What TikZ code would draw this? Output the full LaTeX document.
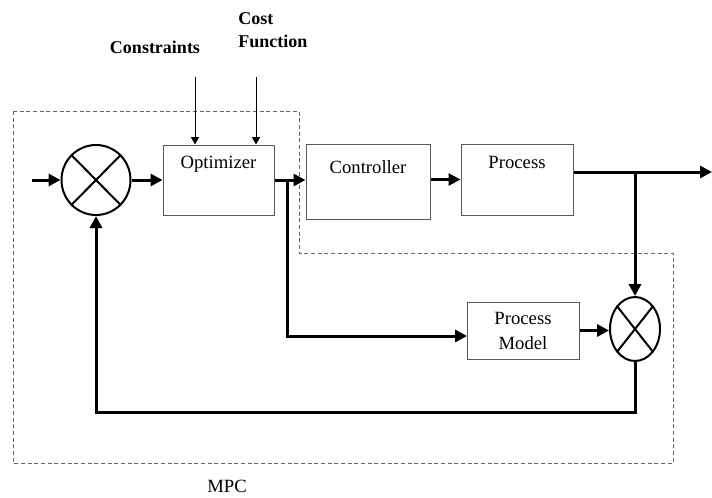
\documentclass[tikz,border=0pt]{standalone}
\usepackage{fontspec}
\setmainfont{Liberation Serif}
\usetikzlibrary{arrows.meta, shapes.geometric}

\begin{document}
\begin{tikzpicture}[x=0.75pt, y=-0.75pt,
    blk/.style={draw=black!65, line width=0.75pt, inner sep=0pt},
    sumj/.style={draw, ellipse, line width=1.5pt, inner sep=0pt},
    sig/.style={line width=2.25pt, -{Triangle[length=9pt, width=9pt]}},
    inarr/.style={line width=0.75pt, -{Triangle[length=5.5pt, width=6pt]}},
    txt/.style={inner sep=0pt, font=\fontsize{14pt}{18.75pt}\selectfont},
    lbl/.style={inner sep=0pt, font=\bfseries\fontsize{13.5pt}{17.25pt}\selectfont}]
    \useasboundingbox (0,0) rectangle (712,497);

    % MPC boundary
    \draw[dashed, dash pattern=on 3pt off 2pt, black!60, line width=0.6pt]
        (13,111) -- (299,111) -- (299,253) -- (673,253) -- (673,463) -- (13,463) -- cycle;
    \node[txt, anchor=base] (mpcLbl) at (227,492) {MPC};

    % Coordinates
    \coordinate (in) at (32,180);
    \coordinate (split1) at (287,180);
    \coordinate (split2) at (635,172);
    \coordinate (out) at (712,172);
    \coordinate (mdlIn) at (467,336);
    \coordinate (fb) at (95,412);
    \coordinate (consTop) at (195,77);
    \coordinate (costTop) at (256,77);

    % Summing junctions
    \node[sumj, minimum width=51.75pt, minimum height=52.5pt] (sum1) at (96,180) {};
    \node[sumj, minimum width=37.5pt, minimum height=48pt] (sum2) at (635,329) {};
    \foreach \s in {sum1, sum2} {
        \draw[line width=1.5pt] (\s.north east) -- (\s.south west);
        \draw[line width=1.5pt] (\s.north west) -- (\s.south east);
    }

    % Blocks
    \node[blk, minimum width=83.25pt, minimum height=52.5pt] (opt) at (218.5,180) {};
    \node[blk, minimum width=93pt, minimum height=56.25pt] (ctrl) at (368,181.5) {};
    \node[blk, minimum width=84pt, minimum height=53.25pt] (proc) at (517,179.5) {};
    \node[blk, minimum width=84pt, minimum height=42.75pt, align=center,
          font=\fontsize{14pt}{18.75pt}\selectfont] (model) at (523,330.5) {Process\\Model};
    \node[txt, anchor=base] (optTxt) at (218.5,168) {Optimizer};
    \node[txt, anchor=base] (ctrlTxt) at (368,173) {Controller};
    \node[txt, anchor=base] (procTxt) at (517,168) {Process};

    % Inputs to the optimizer
    \node[lbl, anchor=base] (consLbl) at (155,53) {Constraints};
    \node[lbl, anchor=north west, align=left] (costLbl) at (238,12) {Cost\\Function};
    \draw[inarr] (consTop) -- (consTop |- opt.north);
    \draw[inarr] (costTop) -- (costTop |- opt.north);

    % Signal paths
    \draw[sig] (in) -- (sum1.west);
    \draw[sig] (sum1.east) -- (opt.west);
    \draw[sig] (opt.east) -- (opt.east -| ctrl.west);
    \draw[sig] (proc.west -| ctrl.east) -- (proc.west);
    \draw[sig] (proc.east |- split2) -- (out);
    \draw[sig] (split2) -- (sum2.north);
    \draw[sig] (split1) |- (mdlIn);
    \draw[sig] (model.east) -- (model.east -| sum2.west);

    % Feedback
    \draw[sig] (sum2.south) -- (sum2.south |- fb) -| (sum1.south);
\end{tikzpicture}
\end{document}
